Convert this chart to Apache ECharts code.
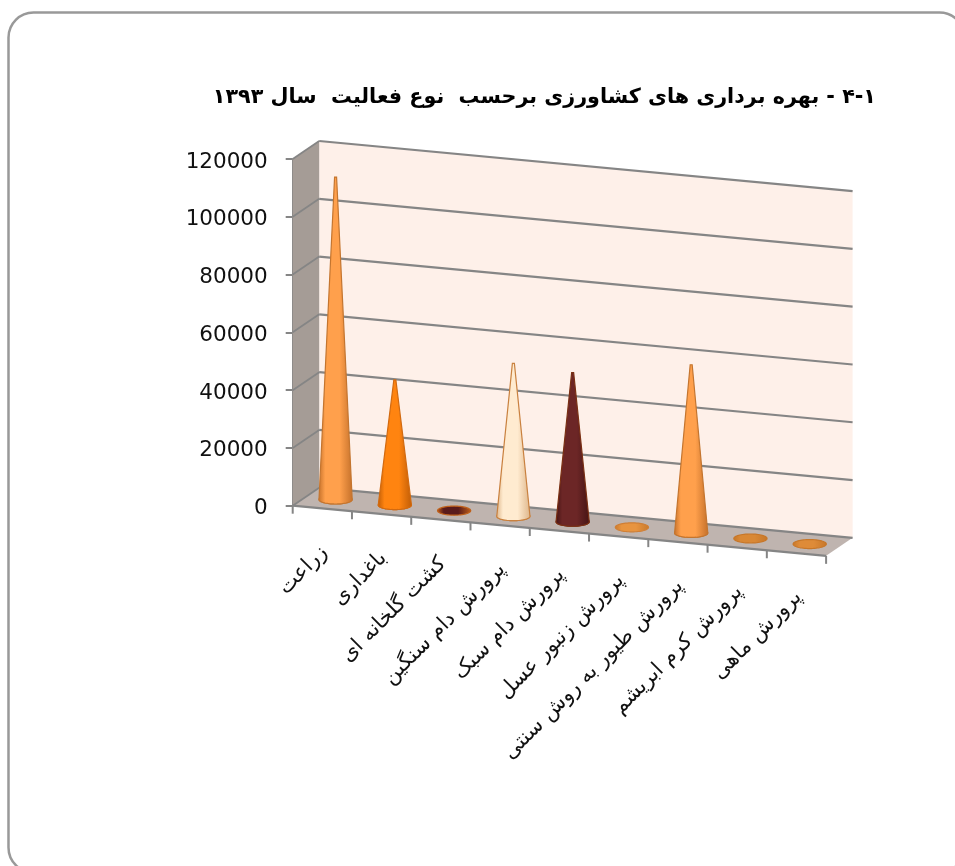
<!DOCTYPE html>
<html>
<head>
<meta charset="utf-8">
<style>html,body{margin:0;padding:0;background:#fff}#c{width:955px;height:866px}</style>
<script src="https://cdn.jsdelivr.net/npm/echarts@6/dist/echarts.min.js"></script>
</head>
<body>
<div id="c" dir="rtl"></div>
<script>
const titleText = '۴-۱ - بهره برداری های کشاورزی برحسب  نوع فعالیت  سال ۱۳۹۳';
const categories = ['زراعت','باغداری','کشت گلخانه ای','پرورش دام سنگین','پرورش دام سبک','پرورش زنبور عسل','پرورش طیور به روش سنتی','پرورش کرم ابریشم','پرورش ماهی'];
const values = [111600, 43300, 300, 52900, 51600, 500, 58200, 400, 300];
const yTicks = [0, 20000, 40000, 60000, 80000, 100000, 120000];
const coneDark  = ['#C4702A','#BF5C06','#C0601A','#DDB488','#451414','#C97A2C','#C4702A','#C77729','#C77729'];
const coneLight = ['#FFA04C','#FF8410','#5A1B1B','#FFEBD0','#6C2626','#E8943F','#FFA04C','#D98835','#DE8B38'];
const coneLine  = ['#C4752F','#D26A10','#C0601A','#C9813F','#7A3014','#D07F35','#C4752F','#C77729','#C77729'];

const SLOPE = 0.094, DX = 26.5, DY = -18, GRID = '#858585';
function project(api, cat, val, depth) {
  const p = api.coord([cat, val]);
  const sys = api.__sys;
  return [p[0] + DX * depth, p[1] + (p[0] - sys.x) * SLOPE + DY * depth];
}
function corner(sys, api, frac, val, depth) {
  const y0 = api.coord([0, val])[1];
  const x = sys.x + frac * sys.width;
  return [x + DX * depth, y0 + (x - sys.x) * SLOPE + DY * depth];
}
function lineEl(a, b, stroke, w) {
  return {type:'line', shape:{x1:a[0],y1:a[1],x2:b[0],y2:b[1]}, style:{stroke, lineWidth:w}};
}
const seriesList = [
  { // walls and floor
    type:'custom', z:1, silent:true, data:[[0,0]],
    renderItem(params, api){
      const s = params.coordSys, top = 120000;
      const c = (f,v,d)=>corner(s,api,f,v,d);
      return {type:'group', children:[
        {type:'polygon', shape:{points:[c(0,0,1),c(1,0,1),c(1,top,1),c(0,top,1)]}, style:{fill:'#FEF0E9'}},
        {type:'polygon', shape:{points:[c(0,0,0),c(0,0,1),c(0,top,1),c(0,top,0)]}, style:{fill:'#A59C96'}},
        {type:'polygon', shape:{points:[c(0,0,0),c(1,0,0),c(1,0,1),c(0,0,1)]}, style:{fill:'#BFB4AF'}},
        lineEl(c(0,0,0),c(1,0,0),GRID,2.2)
      ]};
    }
  },
  { // gridlines
    type:'custom', z:2, silent:true, data:yTicks.map(v=>[0,v]),
    renderItem(params, api){
      const s = params.coordSys, v = api.value(1);
      const a = corner(s,api,0,v,0), b = corner(s,api,0,v,1), e = corner(s,api,1,v,1);
      return {type:'group', children:[lineEl(a,b,GRID,1.8), lineEl(b,e,GRID,2.2)]};
    }
  },
  { // category ticks
    type:'custom', z:2, silent:true, data:Array.from({length:categories.length+1},(_, i)=>[0,i]),
    renderItem(params, api){
      const s = params.coordSys, f = api.value(1)/categories.length;
      const a = corner(s,api,f,0,0);
      return lineEl(a,[a[0],a[1]+8],GRID,2);
    }
  },
  { // cones
    type:'custom', z:3, silent:true, data:values.map((v,i)=>[i,v]),
    renderItem(params, api){
      const s = params.coordSys, i = api.value(0), v = api.value(1);
      api.__sys = s;
      const band = api.size([1,0])[0];
      const rx = band*0.28, ry = band*0.076;
      const base = project(api,i,0,0.5), tip = project(api,i,v,0.5);
      const lower = [], full = [];
      for (let k=0;k<=32;k++){
        const t = Math.PI*k/32;
        lower.push([base[0]+rx*Math.cos(t), base[1]+ry*Math.sin(t)]);
      }
      for (let k=0;k<64;k++){
        const t = 2*Math.PI*k/64;
        full.push([base[0]+rx*Math.cos(t), base[1]+ry*Math.sin(t)]);
      }
      const grad = new echarts.graphic.LinearGradient(0,0,1,0,[
        {offset:0,color:coneDark[i]},{offset:0.2,color:coneLight[i]},
        {offset:0.62,color:coneLight[i]},{offset:1,color:coneDark[i]}]);
      const tall = (base[1]-tip[1]) > ry*2;
      const head = [[tip[0]-1,tip[1]],[tip[0]+1,tip[1]]];
      return {type:'group', children:[
        {type:'polygon', shape:{points:full}, style:{fill:grad, stroke:coneLine[i], lineWidth:1.2}},
        tall ? {type:'polygon', shape:{points:head.concat(lower)}, style:{fill:grad, stroke:coneLine[i], lineWidth:1.2}}
             : {type:'group', children:[]}
      ]};
    }
  },
  { // category labels
    type:'custom', z:4, silent:true, data:categories.map((n,i)=>[i,0]),
    renderItem(params, api){
      const s = params.coordSys, i = api.value(0);
      api.__sys = s;
      const p = project(api,i,0,0);
      return {type:'text', x:p[0]+2, y:p[1]+41, rotation:Math.PI/4,
        style:{text:categories[i], align:'right', verticalAlign:'middle',
          font:'21px "DejaVu Sans"', fill:'#111'}};
    }
  }
];
const chart = echarts.init(document.getElementById('c'), null, {renderer:'canvas'});
chart.setOption({
  animation:false,
  backgroundColor:'#fff',
  title:{text:titleText, right:74, top:82, textStyle:{fontFamily:'DejaVu Sans', fontWeight:'bold', fontSize:20.7, color:'#000'}},
  graphic:[{type:'rect', z:-1, shape:{x:8.5,y:12.5,width:956,height:860,r:25}, style:{fill:'#fff', stroke:'#999', lineWidth:2.5}}],
  grid:{left:292.7, top:159, width:533.4, height:346.7, containLabel:false},
  xAxis:{type:'category', data:categories, show:false},
  yAxis:{type:'value', min:0, max:120000, interval:20000,
    axisLine:{show:true, lineStyle:{color:GRID, width:1}}, splitLine:{show:false},
    axisTick:{show:true, length:7, lineStyle:{color:GRID, width:2}},
    axisLabel:{fontFamily:'DejaVu Sans', fontSize:21.5, color:'#111', margin:25, verticalAlign:'top', lineHeight:6, formatter:v=>String(v)}},
  series:seriesList
});
</script>
</body>
</html>
